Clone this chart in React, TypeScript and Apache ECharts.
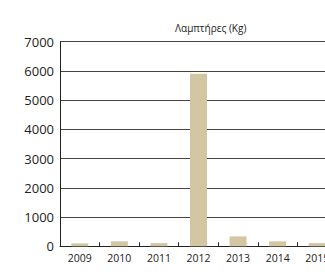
import React, { useEffect, useRef } from "react";
import * as echarts from "echarts";

const categories = ["2009", "2010", "2011", "2012", "2013", "2014", "2015"];
const values = [100, 170, 110, 5900, 340, 170, 110];
const yTicks = [0, 1000, 2000, 3000, 4000, 5000, 6000, 7000];
const title = "Λαμπτήρες (Kg)";

export default function App() {
  const ref = useRef<HTMLDivElement>(null);
  useEffect(() => {
    document.body.style.margin = "0";
    const chart = echarts.init(ref.current!, null, { renderer: "svg" });
    chart.setOption({
      animation: false,
      backgroundColor: "#ffffff",
      title: {
        text: title,
        left: 170,
        top: 18,
        textStyle: { fontFamily: "Open Sans", fontSize: 10, fontWeight: "normal", color: "#222" },
      },
      grid: { left: 60, top: 41.7, width: 277, height: 204.6, containLabel: false },
      xAxis: {
        type: "category",
        data: categories,
        axisLine: { lineStyle: { color: "#222", width: 1 } },
        axisTick: { show: true, inside: true, length: 4, alignWithLabel: false, lineStyle: { color: "#222" } },
        axisLabel: { fontFamily: "Open Sans", fontSize: 10.5, color: "#222", margin: 6 },
      },
      yAxis: {
        type: "value",
        min: yTicks[0],
        max: yTicks[yTicks.length - 1],
        interval: 1000,
        axisLine: { show: true, lineStyle: { color: "#222", width: 1 } },
        axisTick: { show: false },
        splitLine: { lineStyle: { color: "#444", width: 1 } },
        axisLabel: {
          fontFamily: "Open Sans",
          fontSize: 13,
          color: "#222",
          margin: 6,
          formatter: (v: number) => String(v),
        },
      },
      series: [
        {
          type: "bar",
          data: values,
          barWidth: 17,
          itemStyle: { color: "#d3c6a3" },
        },
      ],
    });
    return () => chart.dispose();
  }, []);
  return (
    <div style={{ width: 325, height: 272, overflow: "hidden", position: "relative" }}>
      <div ref={ref} style={{ width: 345, height: 272 }} />
    </div>
  );
}
